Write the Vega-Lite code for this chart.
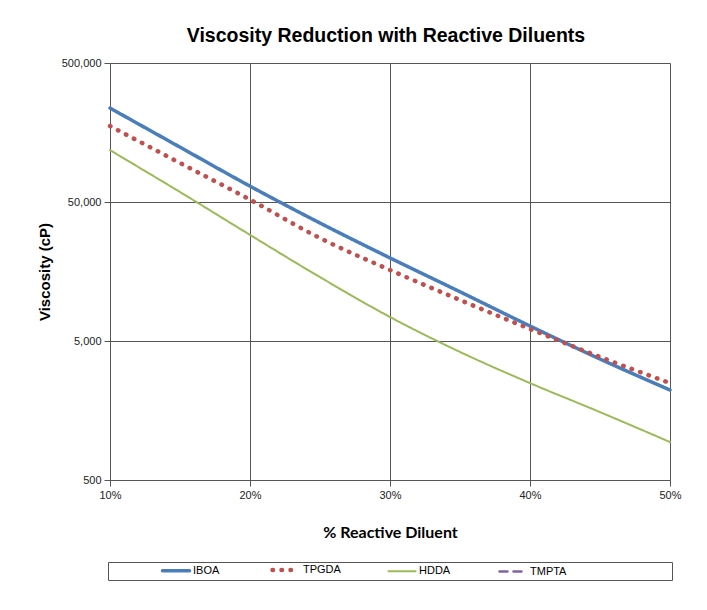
{
  "$schema": "https://vega.github.io/schema/vega-lite/v6.json",
  "autosize": "none",
  "width": 560,
  "height": 417,
  "padding": {"left": 110, "top": 63, "right": 37, "bottom": 130},
  "background": "white",
  "title": {
    "text": "Viscosity Reduction with Reactive Diluents",
    "font": "Liberation Sans",
    "fontSize": 19.5,
    "fontWeight": "bold",
    "color": "#000000",
    "anchor": "middle",
    "offset": 11,
    "dx": -4
  },
  "config": {
    "view": {"stroke": null},
    "axis": {
      "labelFont": "Liberation Sans",
      "labelFontSize": 11,
      "labelColor": "#222222",
      "labelFlush": false,
      "titleColor": "#000000",
      "gridColor": "#555555",
      "gridOpacity": 1,
      "domainColor": "#555555",
      "tickColor": "#555555",
      "tickSize": 6
    }
  },
  "data": {
    "values": [
      {"series": "IBOA", "x": 0.10, "v": 237000},
      {"series": "IBOA", "x": 0.15, "v": 124000},
      {"series": "IBOA", "x": 0.20, "v": 65000},
      {"series": "IBOA", "x": 0.25, "v": 35300},
      {"series": "IBOA", "x": 0.30, "v": 19800},
      {"series": "IBOA", "x": 0.35, "v": 11300},
      {"series": "IBOA", "x": 0.40, "v": 6410},
      {"series": "IBOA", "x": 0.45, "v": 3710},
      {"series": "IBOA", "x": 0.50, "v": 2220},
      {"series": "TPGDA", "x": 0.10, "v": 176000},
      {"series": "TPGDA", "x": 0.15, "v": 95400},
      {"series": "TPGDA", "x": 0.20, "v": 52000},
      {"series": "TPGDA", "x": 0.25, "v": 27500},
      {"series": "TPGDA", "x": 0.30, "v": 16200},
      {"series": "TPGDA", "x": 0.35, "v": 9860},
      {"series": "TPGDA", "x": 0.40, "v": 6100},
      {"series": "TPGDA", "x": 0.45, "v": 3840},
      {"series": "TPGDA", "x": 0.50, "v": 2490},
      {"series": "HDDA", "x": 0.10, "v": 118000},
      {"series": "HDDA", "x": 0.15, "v": 59000},
      {"series": "HDDA", "x": 0.20, "v": 29000},
      {"series": "HDDA", "x": 0.25, "v": 14400},
      {"series": "HDDA", "x": 0.30, "v": 7440},
      {"series": "HDDA", "x": 0.35, "v": 4170},
      {"series": "HDDA", "x": 0.40, "v": 2490},
      {"series": "HDDA", "x": 0.45, "v": 1540},
      {"series": "HDDA", "x": 0.50, "v": 938}
    ]
  },
  "mark": {"type": "line", "interpolate": "monotone", "strokeCap": "round"},
  "encoding": {
    "x": {
      "field": "x",
      "type": "quantitative",
      "scale": {"domain": [0.1, 0.5], "nice": false, "zero": false},
      "axis": {
        "values": [0.1, 0.2, 0.3, 0.4, 0.5],
        "format": ".0%",
        "title": "% Reactive Diluent",
        "titleFont": "Lato",
        "titleFontSize": 16,
        "titleFontWeight": "bold",
        "titlePadding": 24,
        "labelPadding": 3
      }
    },
    "y": {
      "field": "v",
      "type": "quantitative",
      "scale": {"type": "log", "domain": [500, 500000], "nice": false},
      "axis": {
        "values": [500, 5000, 50000, 500000],
        "format": ",",
        "title": "Viscosity (cP)",
        "titleFont": "Liberation Sans",
        "titleFontSize": 15,
        "titleFontWeight": "bold",
        "titlePadding": 9,
        "labelPadding": 3
      }
    },
    "color": {
      "field": "series",
      "type": "nominal",
      "scale": {
        "domain": ["IBOA", "TPGDA", "HDDA", "TMPTA"],
        "range": ["#4A7EBB", "#C0504D", "#9BBB59", "#8064A2"]
      },
      "legend": {
        "title": " ",
        "titleOrient": "left",
        "titlePadding": 51,
        "orient": "none",
        "legendX": -2,
        "legendY": 499,
        "direction": "horizontal",
        "columns": 4,
        "gridAlign": "each",
        "columnPadding": 43,
        "padding": 1,
        "strokeColor": "#555555",
        "symbolType": "M-3,0H3",
        "symbolSize": 81,
        "symbolOffset": 9,
        "labelFont": "Liberation Sans",
        "labelFontSize": 11,
        "labelColor": "#000000",
        "labelOffset": 10,
        "labelLimit": 300,
        "labelExpr": "datum.label == 'TMPTA' ? pad('TMPTA', 39, '\u00a0') + '\u200b' : datum.label",
        "encode": {"symbols": {"update": {"strokeCap": {"value": "round"}}}}
      }
    },
    "strokeDash": {
      "field": "series",
      "type": "nominal",
      "scale": {
        "domain": ["IBOA", "TPGDA", "HDDA", "TMPTA"],
        "range": [[1, 0], [0.5, 8.5], [1, 0], [8, 6]]
      }
    },
    "strokeWidth": {
      "field": "series",
      "type": "nominal",
      "scale": {
        "type": "ordinal",
        "domain": ["IBOA", "TPGDA", "HDDA", "TMPTA"],
        "range": [3.5, 4.5, 2, 2.5]
      }
    }
  }
}
